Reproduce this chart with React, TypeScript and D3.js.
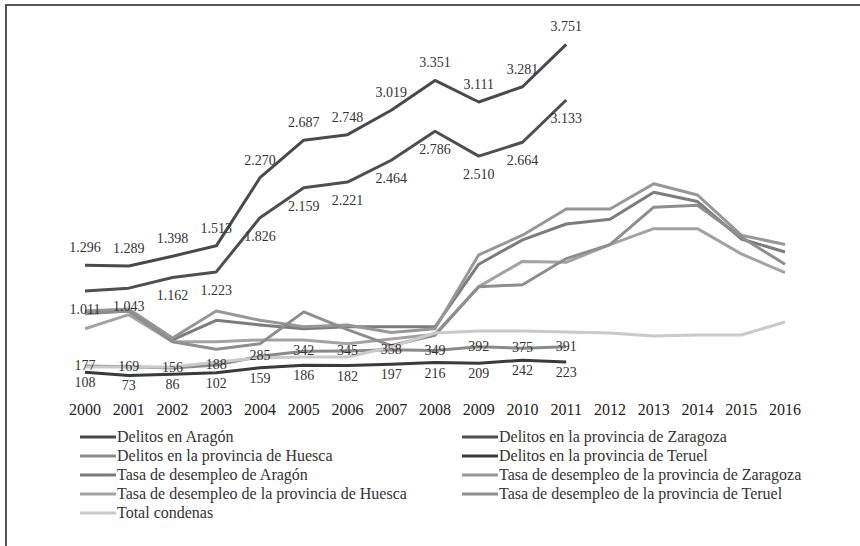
import React from 'react';
import * as d3 from 'd3';

const width = 860;
const height = 546;

// años del eje
const years = ['2000', '2001', '2002', '2003', '2004', '2005', '2006', '2007', '2008',
    '2009', '2010', '2011', '2012', '2013', '2014', '2015', '2016'];

// delitos (2000-2011)
const delitosAragon = [1296, 1289, 1398, 1513, 2270, 2687, 2748, 3019, 3351, 3111, 3281, 3751];
const delitosZaragoza = [1011, 1043, 1162, 1223, 1826, 2159, 2221, 2464, 2786, 2510, 2664, 3133];
const delitosHuesca = [177, 169, 156, 188, 285, 342, 345, 358, 349, 392, 375, 391];
const delitosTeruel = [108, 73, 86, 102, 159, 186, 182, 197, 216, 209, 242, 223];

// tasas de desempleo (%), eje secundario sin rotular
const tasaAragon = [7.4, 7.6, 4.5, 6.6, 6.1, 5.7, 5.9, 5.9, 5.9, 12.6, 15.2, 16.9, 17.4, 20.3, 19.3, 15.3, 13.9];
const tasaZaragoza = [7.6, 7.8, 4.7, 7.6, 6.6, 5.9, 6.1, 5.3, 5.7, 13.6, 15.7, 18.5, 18.5, 21.2, 20.0, 15.7, 14.7];
const tasaHuesca = [5.7, 7.2, 4.3, 4.3, 4.5, 4.5, 4.1, 4.6, 5.1, 10.2, 12.9, 12.8, 14.7, 16.4, 16.4, 13.7, 11.7];
const tasaTeruel = [7.3, 7.6, 4.3, 3.5, 4.1, 7.5, 5.6, 3.9, 5.0, 10.2, 10.4, 13.2, 14.7, 18.7, 18.9, 15.5, 12.6];

const totalCondenas = [167, 167, 167, 222, 267, 278, 278, 389, 544, 567, 567, 556, 544, 511, 522, 522, 667];

const font = '"Liberation Serif", "Times New Roman", serif';

const x = d3.scalePoint().domain(years).range([85, 785]);
const y = d3.scaleLinear().domain([0, 4000]).range([382, 22]);
const yRate = d3.scaleLinear().domain([0, 40]).range([382, 8]);

type Serie = {
    name: string;
    values: number[];
    color: string;
    scale: d3.ScaleLinear<number, number>;
    labelDy?: number; // desplazamiento de la etiqueta respecto al punto
};

const series: Serie[] = [
    { name: 'Delitos en Aragón', values: delitosAragon, color: '#4a4a4a', scale: y, labelDy: -13 },
    { name: 'Delitos en la provincia de Zaragoza', values: delitosZaragoza, color: '#4f4f4f', scale: y, labelDy: 23 },
    { name: 'Delitos en la provincia de Huesca', values: delitosHuesca, color: '#8a8a8a', scale: y, labelDy: 4 },
    { name: 'Delitos en la provincia de Teruel', values: delitosTeruel, color: '#3a3a3a', scale: y, labelDy: 15 },
    { name: 'Tasa de desempleo de Aragón', values: tasaAragon, color: '#7c7c7c', scale: yRate },
    { name: 'Tasa de desempleo de la provincia de Zaragoza', values: tasaZaragoza, color: '#979797', scale: yRate },
    { name: 'Tasa de desempleo de la provincia de Huesca', values: tasaHuesca, color: '#a3a3a3', scale: yRate },
    { name: 'Tasa de desempleo de la provincia de Teruel', values: tasaTeruel, color: '#8e8e8e', scale: yRate },
    { name: 'Total condenas', values: totalCondenas, color: '#cacaca', scale: y },
];

const fmt = (v: number) => d3.format(',')(v).replace(/,/g, '.');

export default function App() {
    return (
        <div style={{ position: 'absolute', left: 0, top: 0 }}>
            <svg width={width} height={height} style={{ display: 'block', background: '#fff' }}>
                <rect x={6} y={5} width={1000} height={1000} fill="none" stroke="#555" strokeWidth={2} />

                {series.map(s => {
                    const line = d3.line<number>()
                        .x((_, i) => x(years[i]) as number)
                        .y(d => s.scale(d));
                    return (
                        <path key={s.name} d={line(s.values) || ''} fill="none" stroke={s.color}
                            strokeWidth={3} strokeLinejoin="round" />
                    );
                })}

                {series.filter(s => s.labelDy !== undefined).map(s => (
                    <g key={s.name + '-labels'}>
                        {s.values.map((v, i) => (
                            <text key={i} x={x(years[i])} y={s.scale(v) + (s.labelDy as number)}
                                textAnchor="middle" fontFamily={font} fontSize={14} fill="#333">
                                {fmt(v)}
                            </text>
                        ))}
                    </g>
                ))}

                {years.map(yr => (
                    <text key={yr} x={x(yr)} y={415} textAnchor="middle" fontFamily={font}
                        fontSize={16} fill="#222">{yr}</text>
                ))}

                {series.map((s, i) => {
                    const lx = i % 2 === 0 ? 80 : 462;
                    const ly = 437 + Math.floor(i / 2) * 19;
                    return (
                        <g key={s.name + '-legend'} transform={`translate(${lx},${ly})`}>
                            <line x1={0} x2={36} y1={0} y2={0} stroke={s.color} strokeWidth={3} />
                            <text x={37} y={5} fontFamily={font} fontSize={16} fill="#333">{s.name}</text>
                        </g>
                    );
                })}
            </svg>
        </div>
    );
}
